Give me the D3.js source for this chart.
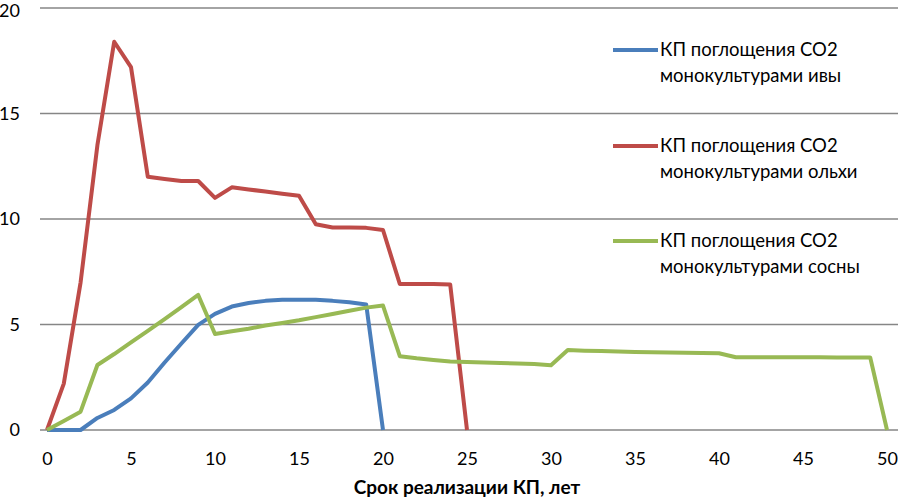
<!DOCTYPE html>
<html>
<head>
<meta charset="utf-8">
<script src="https://cdn.jsdelivr.net/npm/d3@7"></script>
<style>
    body { margin: 0; background: #fff; }
    text { font-family: Lato, "Open Sans", sans-serif; fill: #000; }
</style>
</head>
<body>
<svg id="chart" width="898" height="499"></svg>
<script>

// Years of the project (x axis)
const yearsWillow = d3.range(0, 21);
const yearsAlder = d3.range(0, 26);
const yearsPine = d3.range(0, 51);

// CO2 uptake values
const willow = [0, 0, 0, 0.57, 0.95, 1.5, 2.25, 3.2, 4.1, 4.98, 5.5, 5.85, 6.02, 6.12, 6.17, 6.17, 6.17, 6.12, 6.05, 5.95, 0];
const alder = [0, 2.2, 7.0, 13.5, 18.4, 17.2, 12.0, 11.9, 11.8, 11.8, 11.0, 11.5, 11.4, 11.3, 11.2, 11.1, 9.75, 9.6, 9.6, 9.58, 9.48, 6.92, 6.92, 6.92, 6.9, 0];
const pine = [0, 0.43, 0.87, 3.08, 3.6, 4.15, 4.7, 5.25, 5.82, 6.4,
    4.55, 4.68, 4.8, 4.95, 5.07, 5.2, 5.35, 5.5, 5.65, 5.8,
    5.9, 3.5, 3.4, 3.32, 3.25, 3.22, 3.2, 3.17, 3.15, 3.13,
    3.07, 3.79, 3.76, 3.74, 3.72, 3.7, 3.68, 3.67, 3.66, 3.65,
    3.64, 3.45, 3.45, 3.45, 3.45, 3.45, 3.45, 3.44, 3.44, 3.44, 0];

const seriesNames = [
    ["КП поглощения СО2", "монокультурами ивы"],
    ["КП поглощения СО2", "монокультурами ольхи"],
    ["КП поглощения СО2", "монокультурами сосны"]
];
const seriesColours = ["#4A7EBB", "#BE4B48", "#98B954"];

const xTicks = d3.range(0, 51, 5);
const yTicks = [0, 5, 10, 15, 20];
const xTitle = "Срок реализации КП, лет";

// Scales
const svg = d3.select("#chart");
const x = d3.scaleLinear().domain([0, 50]).range([47, 887]);
const y = d3.scaleLinear().domain([0, 20]).range([430, 8]);

// Gridlines
svg.append("g")
    .selectAll("line")
    .data(yTicks)
    .join("line")
    .attr("x1", 40)
    .attr("x2", 898)
    .attr("y1", d => y(d))
    .attr("y2", d => y(d))
    .attr("stroke", "#868686")
    .attr("stroke-width", 1.3);

// Axes labels (no domain lines)
const yAxis = svg.append("g")
    .attr("transform", `translate(${x(0) - 27},0)`)
    .call(d3.axisLeft(y).tickValues(yTicks).tickSize(0).tickPadding(0));
yAxis.select(".domain").remove();
yAxis.selectAll("text").attr("font-size", 18).attr("font-family", null);
// keep the top label inside the picture
yAxis.selectAll(".tick").filter(d => d === 20).select("text").attr("dy", "0.45em");

const xAxis = svg.append("g")
    .attr("transform", `translate(0,${y(0) + 22})`)
    .call(d3.axisBottom(x).tickValues(xTicks).tickSize(0).tickPadding(0));
xAxis.select(".domain").remove();
xAxis.selectAll("text").attr("font-size", 18).attr("font-family", null);

svg.append("text")
    .attr("x", 467)
    .attr("y", 494)
    .attr("text-anchor", "middle")
    .attr("font-size", 19)
    .attr("font-weight", "bold")
    .text(xTitle);

// Lines
const line = d3.line()
    .x(d => x(d[0]))
    .y(d => y(d[1]));

const allSeries = [
    d3.zip(yearsWillow, willow),
    d3.zip(yearsAlder, alder),
    d3.zip(yearsPine, pine)
];

svg.append("g")
    .selectAll("path")
    .data(allSeries)
    .join("path")
    .attr("d", line)
    .attr("fill", "none")
    .attr("stroke", (d, i) => seriesColours[i])
    .attr("stroke-width", 4)
    .attr("stroke-linejoin", "round");

// Legend
const legendY = [50, 146, 241];
const legend = svg.append("g")
    .selectAll("g")
    .data(seriesNames)
    .join("g")
    .attr("transform", (d, i) => `translate(613,${legendY[i]})`);

legend.append("line")
    .attr("x1", 0)
    .attr("x2", 45)
    .attr("stroke", (d, i) => seriesColours[i])
    .attr("stroke-width", 4);

legend.append("text")
    .attr("x", 47)
    .attr("font-size", 18.5)
    .selectAll("tspan")
    .data(d => d)
    .join("tspan")
    .attr("x", 47)
    .attr("y", (d, i) => i * 26)
    .attr("dy", "0.35em")
    .text(d => d);

</script>
</body>
</html>
